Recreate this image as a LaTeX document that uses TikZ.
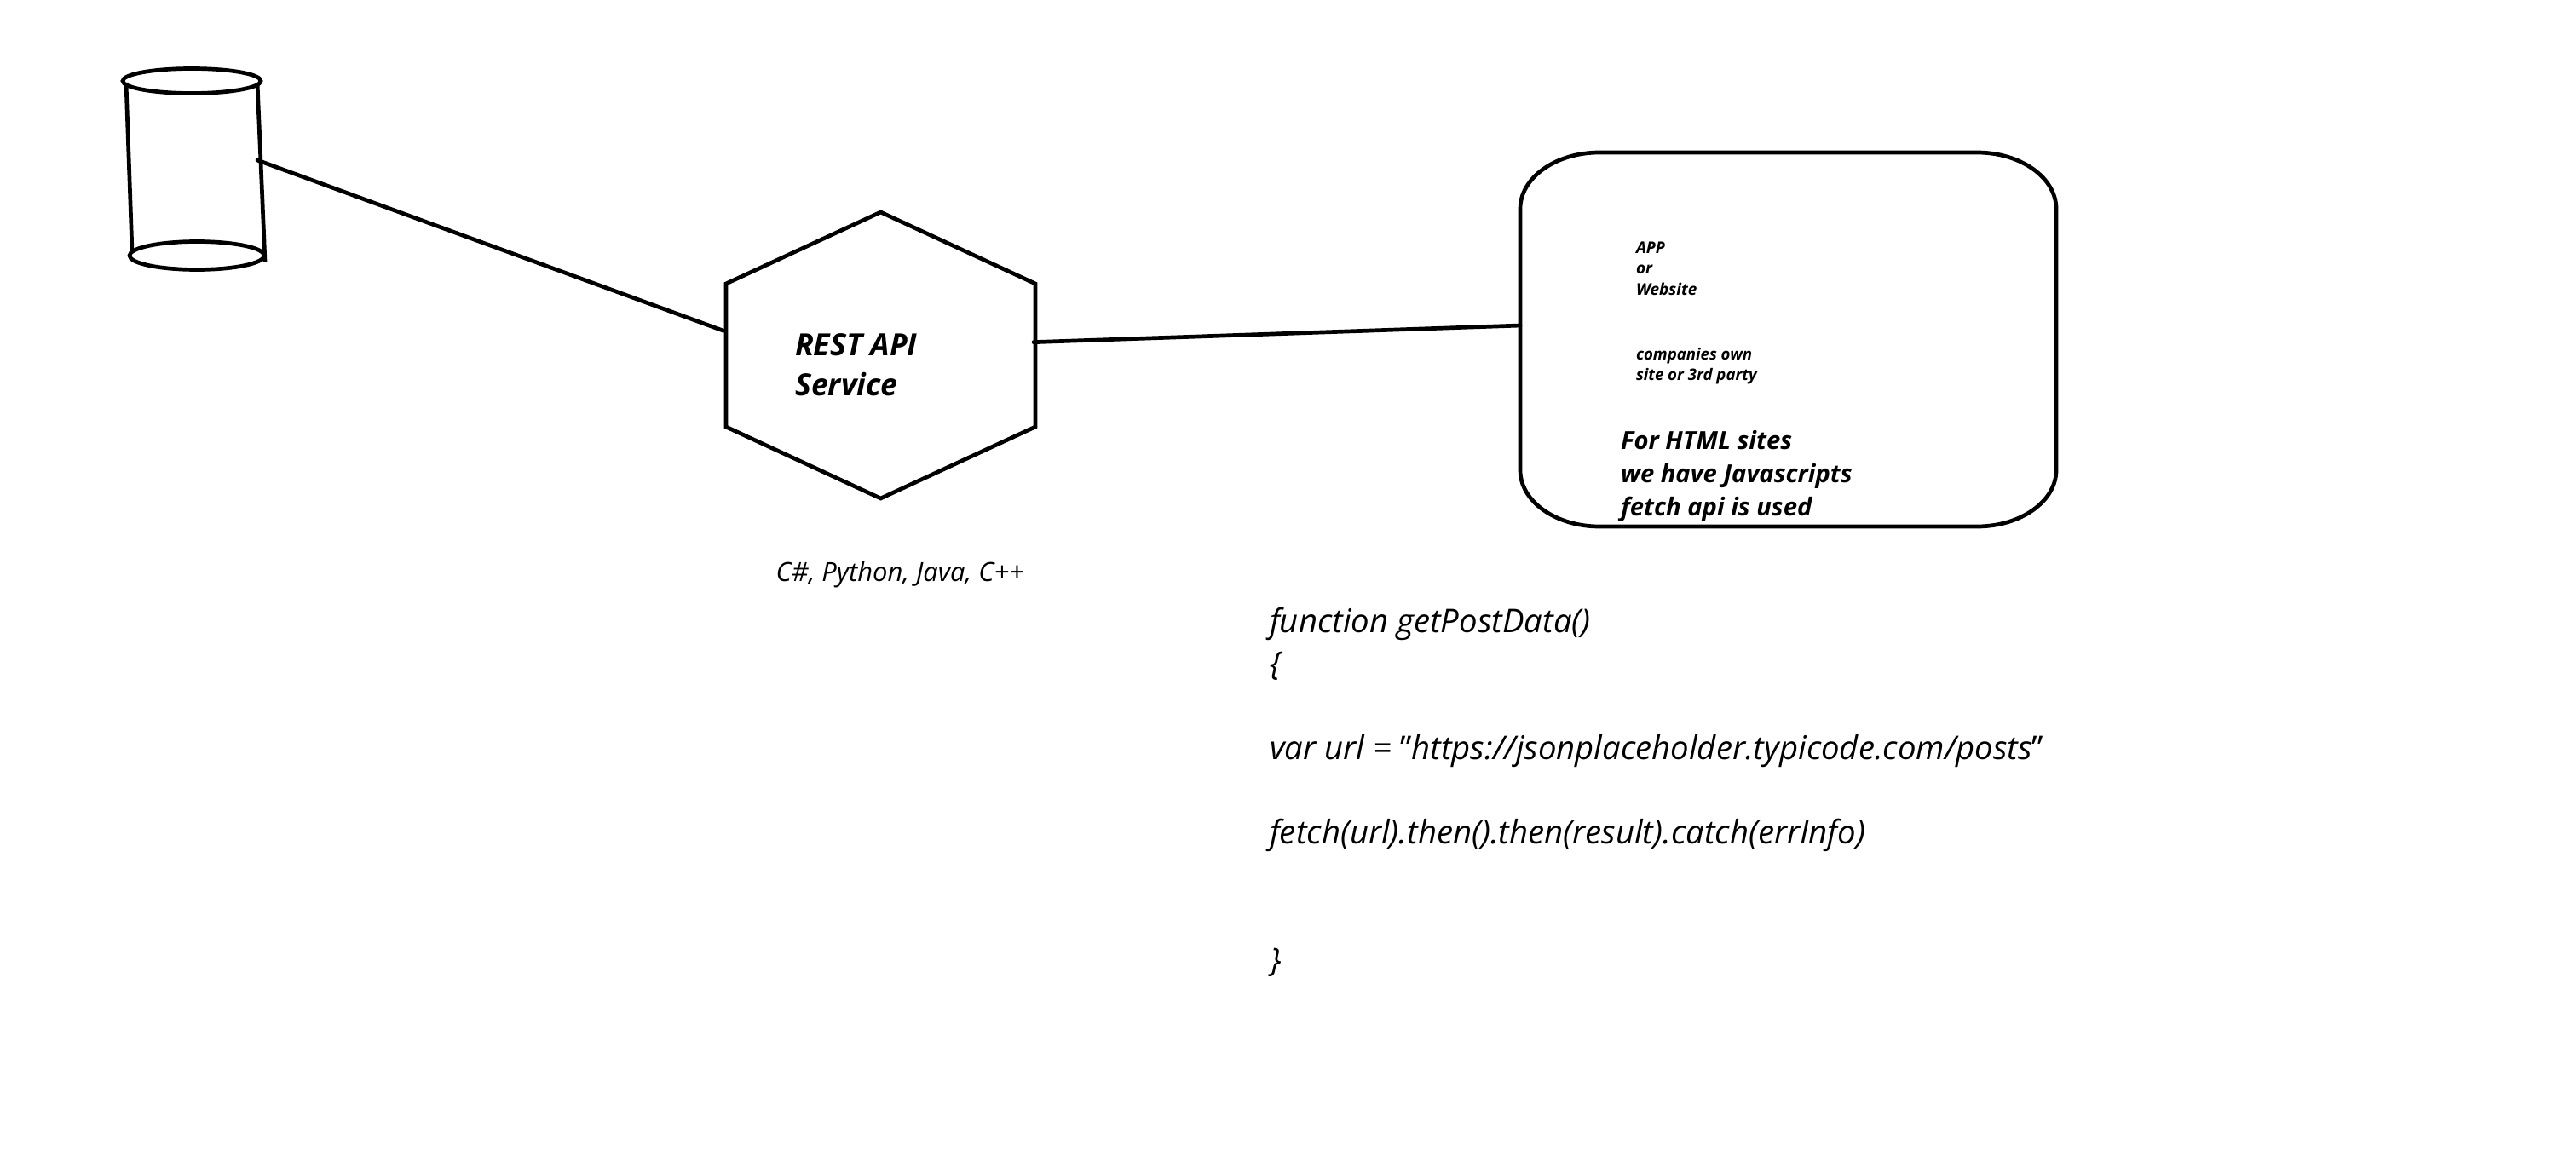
\documentclass[tikz,border=0pt]{standalone}
\usepackage{fontspec}
\setmainfont{Open Sans}
\usetikzlibrary{shapes.geometric}
\tikzset{
	sketch/.style={line width=0.047cm, black},
	dbcap/.style={sketch, draw, ellipse, inner sep=0pt},
	blocktext/.style={anchor=north west, align=left, inner sep=0pt, outer sep=0pt},
}
\begin{document}
\begin{tikzpicture}
				\useasboundingbox (0, 0) rectangle (30.23, 13.70);
				\node (dbtop) at (2.25, 12.75) [dbcap, minimum width=1.62cm, minimum height=0.29cm] {};
				\node (dbbottom) at (2.31, 10.70) [dbcap, minimum width=1.58cm, minimum height=0.33cm] {};
				\draw[sketch] (1.48, 12.73) -- (1.55, 10.75);
				\draw[sketch] (3.02, 12.73) -- (3.11, 10.63);
				\coordinate (dbjoin) at (3.02, 11.82);
				\node (restapi) at (10.335, 9.53) [sketch, draw, regular polygon, regular polygon sides=6, shape border rotate=90, minimum size=3.36cm, inner sep=0pt, xscale=1.2475] {};
				\node (client) at (20.985, 9.715) [minimum width=6.29cm, minimum height=4.39cm, inner sep=0pt, outer sep=0pt] {};
				\draw[sketch] ([xshift=0.93cm]client.north west) -- ([xshift=-0.93cm]client.north east)
					arc[start angle=90, end angle=0, x radius=0.93cm, y radius=0.66cm] -- ([yshift=0.66cm]client.south east)
					arc[start angle=0, end angle=-90, x radius=0.93cm, y radius=0.66cm] -- ([xshift=0.93cm]client.south west)
					arc[start angle=270, end angle=180, x radius=0.93cm, y radius=0.66cm] -- ([yshift=-0.66cm]client.north west)
					arc[start angle=180, end angle=90, x radius=0.93cm, y radius=0.66cm] -- cycle;
				\draw[sketch, line cap=round] (dbjoin) -- (restapi.169);
				\draw[sketch, line cap=round, shorten <=-0.05cm] (restapi.6) -- (client.177);
				\node (restlabel) at (9.33, 9.78) [blocktext, font=\fontsize{10.2}{13.2}\selectfont\bfseries\itshape] {REST API\\Service};
				\node (langs) at (9.10, 6.88) [anchor=base west, inner sep=0pt, font=\fontsize{8.8}{10}\selectfont\itshape] {C\#, Python, Java, C++};
				\node (apptext) at (19.20, 10.865) [blocktext, font=\fontsize{5.4}{7}\selectfont\bfseries\itshape] {APP\\or\\Website};
				\node (owntext) at (19.20, 9.62) [blocktext, font=\fontsize{5.3}{7}\selectfont\bfseries\itshape] {companies own\\site or 3rd party};
				\node (htmltext) at (19.02, 8.65) [blocktext, font=\fontsize{8.3}{11.1}\selectfont\bfseries\itshape] {For HTML sites\\we have Javascripts\\fetch api is used};
				\node (codetext) at (14.90, 6.57) [blocktext, font=\fontsize{10.9}{14.15}\selectfont\itshape] {function getPostData()\\\{\\{}\\var url = {\upshape"}https://jsonplaceholder.typicode.com/posts{\upshape"}\\{}\\fetch(url).then().then(result).catch(errInfo)\\{}\\{}\\\}};
			\end{tikzpicture}
\end{document}
